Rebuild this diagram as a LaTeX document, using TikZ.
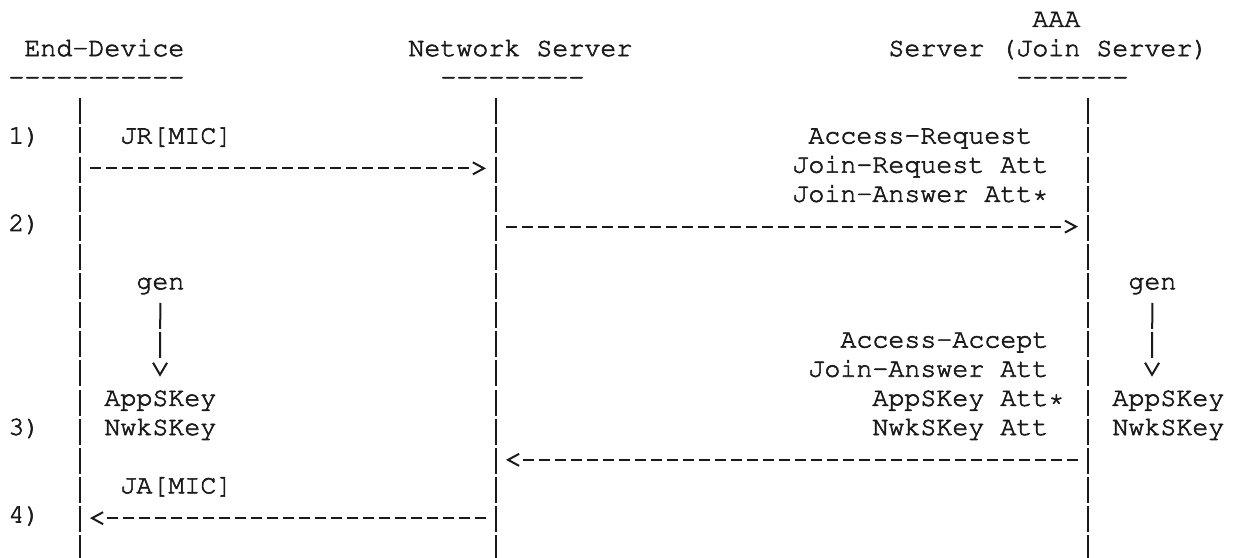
\documentclass[tikz,border=0pt]{standalone}
\usepackage[T1,TU]{fontenc}
\usetikzlibrary{arrows.meta}
\definecolor{asciiInk}{HTML}{1A1A1A}
\newcommand{\asciirule}[1]{\foreach \k in {1,...,#1}{-}}
\newcommand{\heavyink}{\special{pdf:literal direct 2 Tr 0.3 w}}
\def\dashShort{}
\foreach \k in {1,...,23}{\xdef\dashShort{\dashShort on 5.5pt off 2.5pt }}
\xdef\dashShort{\dashShort on 5.5pt off 62.5pt}
\def\dashLong{}
\foreach \k in {1,...,34}{\xdef\dashLong{\dashLong on 5.5pt off 2.5pt }}
\xdef\dashLong{\dashLong on 5.5pt off 62.5pt}
\tikzset{
  ascii/.style={inner sep=0pt, anchor=base west, text=asciiInk,
    font=\fontencoding{T1}\fontfamily{pcr}\fontsize{13.33pt}{14.6pt}\selectfont\heavyink},
  lifeline/.style={draw=asciiInk, line width=1pt, dash pattern=on 13pt off 1.56pt},
  msgarr/.style={draw=asciiInk, line width=1pt,
    -{Straight Barb[length=5.5pt, width=6pt]}, shorten <=5.2pt, shorten >=5pt},
  msgshort/.style={msgarr, dash pattern/.expanded=\dashShort},
  msglong/.style={msgarr, dash pattern/.expanded=\dashLong},
  genarr/.style={draw=asciiInk, line width=1pt,
    dash pattern=on 13pt off 1.56pt on 13pt off 40pt,
    -{Straight Barb[length=6pt, width=7pt]}, shorten <=4.5pt},
}

\begin{document}
\begin{tikzpicture}[x=8pt, y=-14.575pt]
  \useasboundingbox (0,0) rectangle (77.25,19.108);
  \node[ascii] (aaaWord) at (64.5,0.923) {AAA};
  \node[ascii] (edHead) at (1.5,1.923) {End-Device};
  \node[ascii] (nsHead) at (25.5,1.923) {Network Server};
  \node[ascii] (aaaHead) at (55.5,1.923) {Server (Join Server)};
  \node[ascii] (edRule) at (0.5,2.923) {\asciirule{11}};
  \node[ascii] (nsRule) at (27.5,2.923) {\asciirule{9}};
  \node[ascii] (aaaRule) at (63.5,2.923) {\asciirule{7}};

  \node[ascii] (stepOne) at (0.5,4.923) {1)};
  \node[ascii] (stepTwo) at (0.5,7.923) {2)};
  \node[ascii] (stepThree) at (0.5,14.923) {3)};
  \node[ascii] (stepFour) at (0.5,17.923) {4)};

  \node[ascii] (jrMic) at (7.5,4.923) {JR[MIC]};
  \node[ascii] (accReq) at (50.5,4.923) {Access-Request};
  \node[ascii] (joinReqAtt) at (49.5,5.923) {Join-Request Att};
  \node[ascii] (joinAnsOpt) at (49.5,6.923) {Join-Answer Att*};

  \node[ascii] (genED) at (8.5,9.923) {gen};
  \node[ascii] (genAAA) at (70.5,9.923) {gen};
  \node[ascii] (accAcc) at (52.5,11.923) {Access-Accept};
  \node[ascii] (joinAnsAtt) at (50.5,12.923) {Join-Answer Att};
  \node[ascii] (appED) at (6.5,13.923) {AppSKey};
  \node[ascii] (appAtt) at (54.5,13.923) {AppSKey Att*};
  \node[ascii] (appAAA) at (69.5,13.923) {AppSKey};
  \node[ascii] (nwkED) at (6.5,14.923) {NwkSKey};
  \node[ascii] (nwkAtt) at (54.5,14.923) {NwkSKey Att};
  \node[ascii] (nwkAAA) at (69.5,14.923) {NwkSKey};
  \node[ascii] (jaMic) at (7.5,16.923) {JA[MIC]};

  \coordinate (edTop) at (5,3.373);   \coordinate (edEnd) at (5,19.3);
  \coordinate (nsTop) at (31,3.373);  \coordinate (nsEnd) at (31,19.3);
  \coordinate (aaaTop) at (68,3.373); \coordinate (aaaEnd) at (68,19.3);
  \draw[lifeline] (edTop) -- (edEnd);
  \draw[lifeline] (nsTop) -- (nsEnd);
  \draw[lifeline] (aaaTop) -- (aaaEnd);

  \coordinate (edMsgA) at (5,5.775);   \coordinate (nsMsgA) at (31,5.775);
  \coordinate (nsMsgB) at (31,7.775);  \coordinate (aaaMsgB) at (68,7.775);
  \coordinate (aaaMsgC) at (68,15.775); \coordinate (nsMsgC) at (31,15.775);
  \coordinate (nsMsgD) at (31,17.775); \coordinate (edMsgD) at (5,17.775);
  \draw[msgshort] (edMsgA) -- (nsMsgA);
  \draw[msglong] (nsMsgB) -- (aaaMsgB);
  \draw[msglong] (aaaMsgC) -- (nsMsgC);
  \draw[msgshort] (nsMsgD) -- (edMsgD);

  \coordinate (keyTipED) at (10,12.923);
  \coordinate (keyTipAAA) at (72,12.923);
  \draw[genarr] (genED) -- (keyTipED);
  \draw[genarr] (genAAA) -- (keyTipAAA);
\end{tikzpicture}
\end{document}
